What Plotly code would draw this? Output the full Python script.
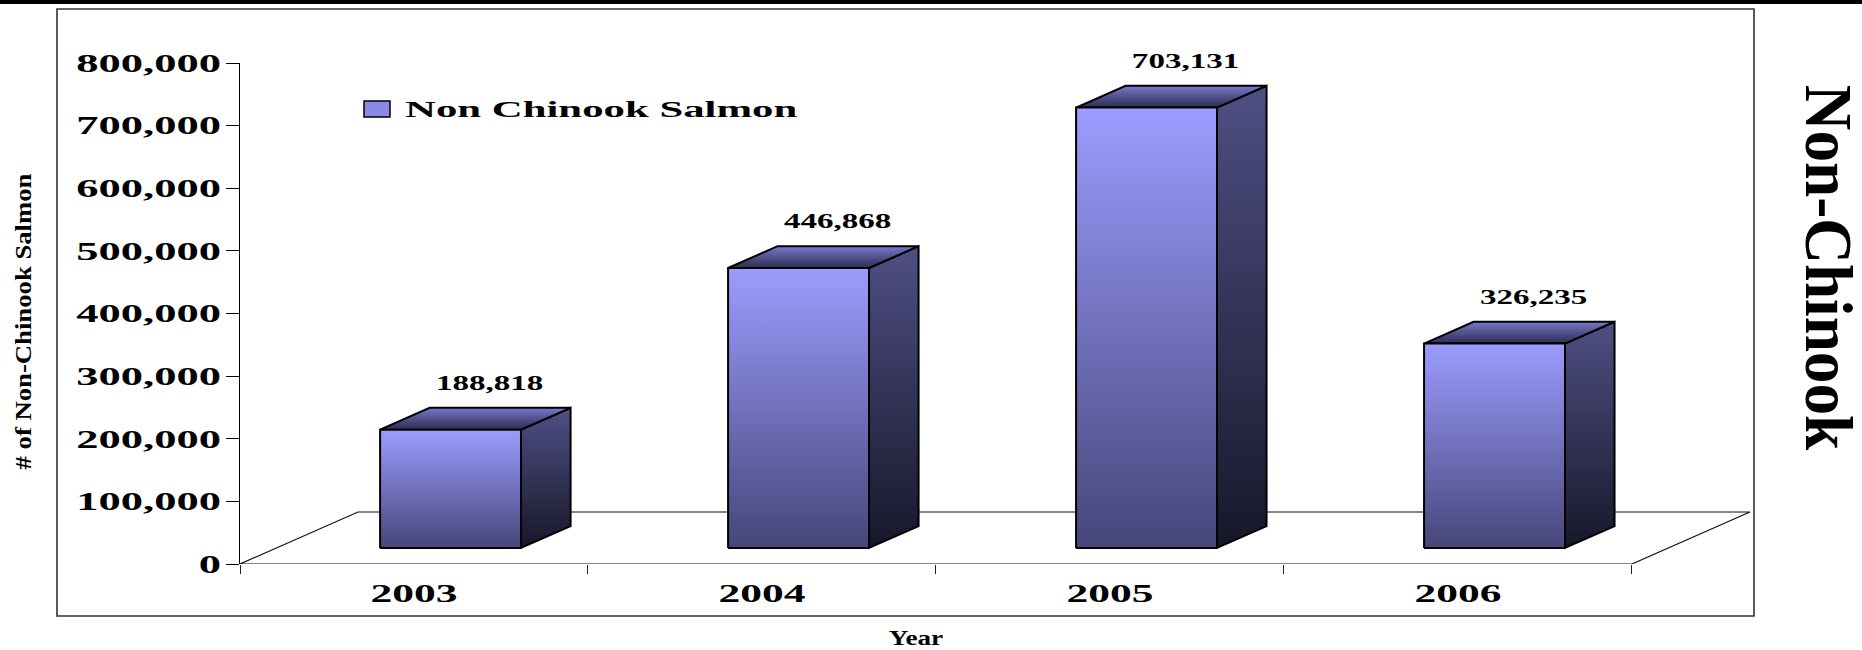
import json
import plotly.graph_objects as go

# ---------------- data ----------------
years = ["2003", "2004", "2005", "2006"]
values = [188818, 446868, 703131, 326235]
series_name = "Non Chinook Salmon"
y_tick_values = [0, 100000, 200000, 300000, 400000, 500000, 600000, 700000, 800000]
y_title = "# of Non-Chinook Salmon"
x_title = "Year"
side_title = "Non-Chinook"

# ---------------- layout geometry ----------------
W, H = 1862, 650
ML, MR, MT, MB = 240, 110, 63, 86
PW, PH = W - ML - MR, H - MT - MB
XMAX = 4.345
YMAX = 800000
DEPTH_X = 0.339      # oblique depth of the floor (category units)
DEPTH_Y = 83000      # oblique depth of the floor (value units)
BAR_W = 0.405
F0, F1 = 0.31, 0.73  # bar front/back depth fractions
LABEL_DX = 0.04      # extra horizontal nudge of value labels

SERIF = "Liberation Serif"


def px(x):
    return (x - ML) / PW


def py(y):
    return (H - MB - y) / PH


fig = go.Figure()

# floor outline
n = len(years)
fig.add_trace(go.Scatter(
    x=[0, n, n + DEPTH_X, DEPTH_X, 0],
    y=[0, 0, DEPTH_Y, DEPTH_Y, 0],
    mode="lines", line=dict(color="#111111", width=1.2),
    hoverinfo="skip", showlegend=False, cliponaxis=False,
))

front_cs = [[0, "#46467a"], [1, "#9c9cff"]]
side_cs = [[0, "#17172a"], [1, "#4f4f84"]]
top_cs = [[0, "#2c2c50"], [1, "#7878cc"]]

ddx = (F1 - F0) * DEPTH_X
ddy = (F1 - F0) * DEPTH_Y
for i, v in enumerate(values):
    c = i + 0.5
    xl = c - BAR_W / 2 + F0 * DEPTH_X
    xr = xl + BAR_W
    y0 = F0 * DEPTH_Y
    y1 = y0 + v
    faces = [
        ([xr, xr + ddx, xr + ddx, xr, xr], [y0, y0 + ddy, y1 + ddy, y1, y0], side_cs),
        ([xl, xr, xr + ddx, xl + ddx, xl], [y1, y1, y1 + ddy, y1 + ddy, y1], top_cs),
        ([xl, xr, xr, xl, xl], [y0, y0, y1, y1, y0], front_cs),
    ]
    for fxs, fys, cs in faces:
        fig.add_trace(go.Scatter(
            x=fxs, y=fys, mode="lines", fill="toself",
            fillgradient=dict(type="vertical", colorscale=cs),
            line=dict(color="black", width=2),
            hoverinfo="skip", showlegend=False, cliponaxis=False,
        ))

annotations = []
factors = []
# value labels
for i, v in enumerate(values):
    annotations.append(dict(
        x=i + 0.5 + (F0 + F1) / 2 * DEPTH_X + LABEL_DX, y=v + F1 * DEPTH_Y,
        xref="x", yref="y", text=f"{v:,}", showarrow=False,
        yshift=25, font=dict(family=SERIF, size=20, color="black", weight="bold"),
    ))
    factors.append(1.65)

# legend label
annotations.append(dict(
    x=px(403), y=py(109), xref="paper", yref="paper", text=series_name,
    showarrow=False, xanchor="left", yanchor="middle", align="left",
    font=dict(family=SERIF, size=23, color="black", weight="bold"),
))
factors.append(1.86)

# y title
annotations.append(dict(
    x=px(23), y=py(322), xref="paper", yref="paper", text=y_title,
    showarrow=False, textangle=-90, xanchor="center", yanchor="middle",
    font=dict(family=SERIF, size=23, color="black", weight="bold"),
))
factors.append(1.16)

# x title
annotations.append(dict(
    x=px(916), y=py(638), xref="paper", yref="paper", text=x_title,
    showarrow=False, xanchor="center", yanchor="middle",
    font=dict(family=SERIF, size=20, color="black", weight="bold"),
))
factors.append(1.36)

# side title
annotations.append(dict(
    x=px(1829), y=py(268), xref="paper", yref="paper", text=side_title,
    showarrow=False, textangle=90, xanchor="center", yanchor="middle",
    font=dict(family=SERIF, size=68, color="black", weight="bold"),
))
factors.append(0.93)

shapes = [
    # outer frame
    dict(type="rect", xref="paper", yref="paper",
         x0=px(57), x1=px(1754), y0=py(616), y1=py(9),
         line=dict(color="#333333", width=1.6), fillcolor="rgba(0,0,0,0)", layer="below"),
    # top black rule
    dict(type="rect", xref="paper", yref="paper",
         x0=px(-10), x1=px(W + 10), y0=py(4), y1=py(-2),
         line=dict(width=0), fillcolor="black"),
    # legend swatch
    dict(type="rect", xref="paper", yref="paper",
         x0=px(364), x1=px(390), y0=py(117), y1=py(101),
         line=dict(color="black", width=1.5), fillcolor="#8a8ae6"),
]

fig.update_layout(
    width=W, height=H,
    margin=dict(l=ML, r=MR, t=MT, b=MB),
    paper_bgcolor="white", plot_bgcolor="white",
    showlegend=False,
    annotations=annotations, shapes=shapes,
    xaxis=dict(
        range=[0, XMAX], showgrid=False, zeroline=False, showline=False,
        tickvals=[i + 0.5 for i in range(n)], ticktext=years, ticks="",
        ticklabelstandoff=12,
        tickfont=dict(family=SERIF, size=25, color="black", weight="bold"),
        minor=dict(tickvals=list(range(n + 1)), ticks="outside", ticklen=9,
                   tickcolor="#222222", tickwidth=1, showgrid=False),
        fixedrange=True,
    ),
    yaxis=dict(
        range=[0, YMAX], showgrid=False, zeroline=False, showline=True,
        linecolor="black", linewidth=1,
        tickvals=y_tick_values, tickformat=",", ticks="outside", ticklen=13,
        tickcolor="black", ticklabelstandoff=0,
        tickfont=dict(family=SERIF, size=25, color="black", weight="bold"),
        fixedrange=True,
    ),
)

js = """
document.documentElement.style.margin='0';
document.body.style.margin='0';
document.body.style.padding='0';
document.body.style.overflow='hidden';
var gd = document.getElementById('{plot_id}');
function st(t,f){var L=t.getComputedTextLength(); if(L>0){t.setAttribute('textLength',(L*f).toFixed(2)); t.setAttribute('lengthAdjust','spacingAndGlyphs');}}
gd.querySelectorAll('.ytick text').forEach(function(t){st(t,%s);});
gd.querySelectorAll('.xtick text').forEach(function(t){st(t,%s);});
var fs=%s;
gd.querySelectorAll('g.annotation').forEach(function(g){var i=+g.getAttribute('data-index');var t=g.querySelector('text.annotation-text');if(t&&fs[i])st(t,fs[i]);});
""" % (1.78, 1.74, json.dumps(factors))

fig.write_html("out.html", post_script=js, config={"displayModeBar": False})
